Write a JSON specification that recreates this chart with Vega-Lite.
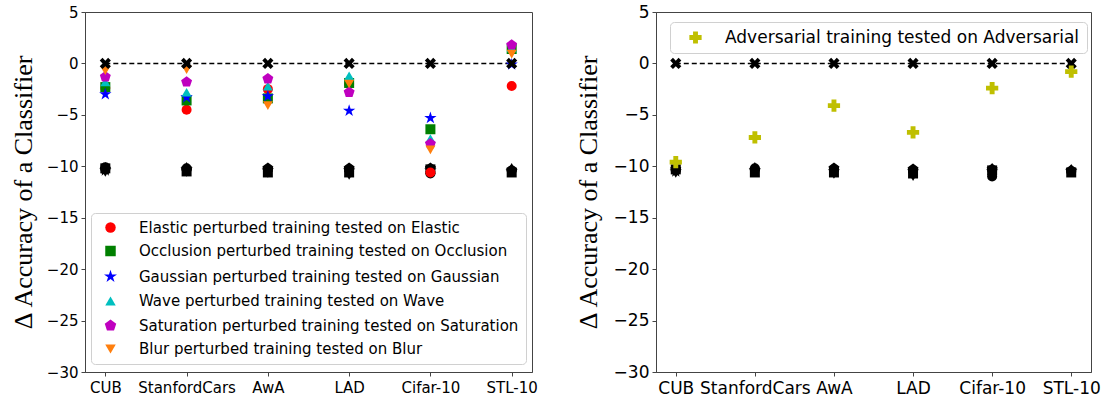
{
  "$schema": "https://vega.github.io/schema/vega-lite/v6.json",
  "background": "white",
  "padding": {"left": 9, "top": 2, "right": 5, "bottom": 5},
  "datasets": {
    "pert": [
      {"dataset": "CUB", "series": "Elastic perturbed training tested on Elastic", "value": -2.4},
      {"dataset": "CUB", "series": "Occlusion perturbed training tested on Occlusion", "value": -2.3},
      {"dataset": "CUB", "series": "Gaussian perturbed training tested on Gaussian", "value": -3.0},
      {"dataset": "CUB", "series": "Wave perturbed training tested on Wave", "value": -1.8},
      {"dataset": "CUB", "series": "Saturation perturbed training tested on Saturation", "value": -1.3},
      {"dataset": "CUB", "series": "Blur perturbed training tested on Blur", "value": -0.7},
      {"dataset": "StanfordCars", "series": "Elastic perturbed training tested on Elastic", "value": -4.5},
      {"dataset": "StanfordCars", "series": "Occlusion perturbed training tested on Occlusion", "value": -3.6},
      {"dataset": "StanfordCars", "series": "Gaussian perturbed training tested on Gaussian", "value": -3.3},
      {"dataset": "StanfordCars", "series": "Wave perturbed training tested on Wave", "value": -2.8},
      {"dataset": "StanfordCars", "series": "Saturation perturbed training tested on Saturation", "value": -1.8},
      {"dataset": "StanfordCars", "series": "Blur perturbed training tested on Blur", "value": -0.6},
      {"dataset": "AwA", "series": "Elastic perturbed training tested on Elastic", "value": -2.5},
      {"dataset": "AwA", "series": "Occlusion perturbed training tested on Occlusion", "value": -3.4},
      {"dataset": "AwA", "series": "Gaussian perturbed training tested on Gaussian", "value": -3.2},
      {"dataset": "AwA", "series": "Wave perturbed training tested on Wave", "value": -2.2},
      {"dataset": "AwA", "series": "Saturation perturbed training tested on Saturation", "value": -1.5},
      {"dataset": "AwA", "series": "Blur perturbed training tested on Blur", "value": -4.1},
      {"dataset": "LAD", "series": "Elastic perturbed training tested on Elastic", "value": -2.0},
      {"dataset": "LAD", "series": "Occlusion perturbed training tested on Occlusion", "value": -1.9},
      {"dataset": "LAD", "series": "Gaussian perturbed training tested on Gaussian", "value": -4.6},
      {"dataset": "LAD", "series": "Wave perturbed training tested on Wave", "value": -1.2},
      {"dataset": "LAD", "series": "Saturation perturbed training tested on Saturation", "value": -2.8},
      {"dataset": "LAD", "series": "Blur perturbed training tested on Blur", "value": -2.0},
      {"dataset": "Cifar-10", "series": "Elastic perturbed training tested on Elastic", "value": -10.6},
      {"dataset": "Cifar-10", "series": "Occlusion perturbed training tested on Occlusion", "value": -6.4},
      {"dataset": "Cifar-10", "series": "Gaussian perturbed training tested on Gaussian", "value": -5.3},
      {"dataset": "Cifar-10", "series": "Wave perturbed training tested on Wave", "value": -7.3},
      {"dataset": "Cifar-10", "series": "Saturation perturbed training tested on Saturation", "value": -7.8},
      {"dataset": "Cifar-10", "series": "Blur perturbed training tested on Blur", "value": -8.4},
      {"dataset": "STL-10", "series": "Elastic perturbed training tested on Elastic", "value": -2.2},
      {"dataset": "STL-10", "series": "Occlusion perturbed training tested on Occlusion", "value": 1.4},
      {"dataset": "STL-10", "series": "Gaussian perturbed training tested on Gaussian", "value": -0.1},
      {"dataset": "STL-10", "series": "Wave perturbed training tested on Wave", "value": 1.5},
      {"dataset": "STL-10", "series": "Saturation perturbed training tested on Saturation", "value": 1.8},
      {"dataset": "STL-10", "series": "Blur perturbed training tested on Blur", "value": 0.9}
    ],
    "cleanL": [
      {"dataset": "CUB", "series": "Elastic perturbed training tested on Elastic", "value": -10.1},
      {"dataset": "CUB", "series": "Occlusion perturbed training tested on Occlusion", "value": -10.2},
      {"dataset": "CUB", "series": "Gaussian perturbed training tested on Gaussian", "value": -10.4},
      {"dataset": "CUB", "series": "Wave perturbed training tested on Wave", "value": -10.0},
      {"dataset": "CUB", "series": "Saturation perturbed training tested on Saturation", "value": -10.3},
      {"dataset": "CUB", "series": "Blur perturbed training tested on Blur", "value": -10.6},
      {"dataset": "StanfordCars", "series": "Elastic perturbed training tested on Elastic", "value": -10.2},
      {"dataset": "StanfordCars", "series": "Occlusion perturbed training tested on Occlusion", "value": -10.5},
      {"dataset": "StanfordCars", "series": "Gaussian perturbed training tested on Gaussian", "value": -10.3},
      {"dataset": "StanfordCars", "series": "Wave perturbed training tested on Wave", "value": -10.0},
      {"dataset": "StanfordCars", "series": "Saturation perturbed training tested on Saturation", "value": -10.4},
      {"dataset": "StanfordCars", "series": "Blur perturbed training tested on Blur", "value": -10.6},
      {"dataset": "AwA", "series": "Elastic perturbed training tested on Elastic", "value": -10.3},
      {"dataset": "AwA", "series": "Occlusion perturbed training tested on Occlusion", "value": -10.6},
      {"dataset": "AwA", "series": "Gaussian perturbed training tested on Gaussian", "value": -10.4},
      {"dataset": "AwA", "series": "Wave perturbed training tested on Wave", "value": -10.1},
      {"dataset": "AwA", "series": "Saturation perturbed training tested on Saturation", "value": -10.2},
      {"dataset": "AwA", "series": "Blur perturbed training tested on Blur", "value": -10.7},
      {"dataset": "LAD", "series": "Elastic perturbed training tested on Elastic", "value": -10.3},
      {"dataset": "LAD", "series": "Occlusion perturbed training tested on Occlusion", "value": -10.6},
      {"dataset": "LAD", "series": "Gaussian perturbed training tested on Gaussian", "value": -10.4},
      {"dataset": "LAD", "series": "Wave perturbed training tested on Wave", "value": -10.1},
      {"dataset": "LAD", "series": "Saturation perturbed training tested on Saturation", "value": -10.2},
      {"dataset": "LAD", "series": "Blur perturbed training tested on Blur", "value": -10.9},
      {"dataset": "Cifar-10", "series": "Elastic perturbed training tested on Elastic", "value": -10.7},
      {"dataset": "Cifar-10", "series": "Occlusion perturbed training tested on Occlusion", "value": -10.3},
      {"dataset": "Cifar-10", "series": "Gaussian perturbed training tested on Gaussian", "value": -10.4},
      {"dataset": "Cifar-10", "series": "Wave perturbed training tested on Wave", "value": -10.1},
      {"dataset": "Cifar-10", "series": "Saturation perturbed training tested on Saturation", "value": -10.2},
      {"dataset": "Cifar-10", "series": "Blur perturbed training tested on Blur", "value": -10.5},
      {"dataset": "STL-10", "series": "Elastic perturbed training tested on Elastic", "value": -10.4},
      {"dataset": "STL-10", "series": "Occlusion perturbed training tested on Occlusion", "value": -10.6},
      {"dataset": "STL-10", "series": "Gaussian perturbed training tested on Gaussian", "value": -10.5},
      {"dataset": "STL-10", "series": "Wave perturbed training tested on Wave", "value": -10.1},
      {"dataset": "STL-10", "series": "Saturation perturbed training tested on Saturation", "value": -10.4},
      {"dataset": "STL-10", "series": "Blur perturbed training tested on Blur", "value": -10.6}
    ],
    "cleanR": [
      {"dataset": "CUB", "series": "Elastic perturbed training tested on Elastic", "value": -10.4},
      {"dataset": "CUB", "series": "Occlusion perturbed training tested on Occlusion", "value": -10.3},
      {"dataset": "CUB", "series": "Gaussian perturbed training tested on Gaussian", "value": -10.5},
      {"dataset": "CUB", "series": "Wave perturbed training tested on Wave", "value": -10.1},
      {"dataset": "CUB", "series": "Saturation perturbed training tested on Saturation", "value": -10.3},
      {"dataset": "CUB", "series": "Blur perturbed training tested on Blur", "value": -10.7},
      {"dataset": "StanfordCars", "series": "Elastic perturbed training tested on Elastic", "value": -10.2},
      {"dataset": "StanfordCars", "series": "Occlusion perturbed training tested on Occlusion", "value": -10.6},
      {"dataset": "StanfordCars", "series": "Gaussian perturbed training tested on Gaussian", "value": -10.4},
      {"dataset": "StanfordCars", "series": "Wave perturbed training tested on Wave", "value": -10.0},
      {"dataset": "StanfordCars", "series": "Saturation perturbed training tested on Saturation", "value": -10.4},
      {"dataset": "StanfordCars", "series": "Blur perturbed training tested on Blur", "value": -10.6},
      {"dataset": "AwA", "series": "Elastic perturbed training tested on Elastic", "value": -10.3},
      {"dataset": "AwA", "series": "Occlusion perturbed training tested on Occlusion", "value": -10.6},
      {"dataset": "AwA", "series": "Gaussian perturbed training tested on Gaussian", "value": -10.5},
      {"dataset": "AwA", "series": "Wave perturbed training tested on Wave", "value": -10.1},
      {"dataset": "AwA", "series": "Saturation perturbed training tested on Saturation", "value": -10.2},
      {"dataset": "AwA", "series": "Blur perturbed training tested on Blur", "value": -10.8},
      {"dataset": "LAD", "series": "Elastic perturbed training tested on Elastic", "value": -10.4},
      {"dataset": "LAD", "series": "Occlusion perturbed training tested on Occlusion", "value": -10.7},
      {"dataset": "LAD", "series": "Gaussian perturbed training tested on Gaussian", "value": -10.5},
      {"dataset": "LAD", "series": "Wave perturbed training tested on Wave", "value": -10.2},
      {"dataset": "LAD", "series": "Saturation perturbed training tested on Saturation", "value": -10.3},
      {"dataset": "LAD", "series": "Blur perturbed training tested on Blur", "value": -11.0},
      {"dataset": "Cifar-10", "series": "Elastic perturbed training tested on Elastic", "value": -11.0},
      {"dataset": "Cifar-10", "series": "Occlusion perturbed training tested on Occlusion", "value": -10.4},
      {"dataset": "Cifar-10", "series": "Gaussian perturbed training tested on Gaussian", "value": -10.5},
      {"dataset": "Cifar-10", "series": "Wave perturbed training tested on Wave", "value": -10.1},
      {"dataset": "Cifar-10", "series": "Saturation perturbed training tested on Saturation", "value": -10.3},
      {"dataset": "Cifar-10", "series": "Blur perturbed training tested on Blur", "value": -10.7},
      {"dataset": "STL-10", "series": "Elastic perturbed training tested on Elastic", "value": -10.5},
      {"dataset": "STL-10", "series": "Occlusion perturbed training tested on Occlusion", "value": -10.6},
      {"dataset": "STL-10", "series": "Gaussian perturbed training tested on Gaussian", "value": -10.5},
      {"dataset": "STL-10", "series": "Wave perturbed training tested on Wave", "value": -10.2},
      {"dataset": "STL-10", "series": "Saturation perturbed training tested on Saturation", "value": -10.4},
      {"dataset": "STL-10", "series": "Blur perturbed training tested on Blur", "value": -10.6}
    ],
    "base": [
      {"dataset": "CUB", "value": 0},
      {"dataset": "StanfordCars", "value": 0},
      {"dataset": "AwA", "value": 0},
      {"dataset": "LAD", "value": 0},
      {"dataset": "Cifar-10", "value": 0},
      {"dataset": "STL-10", "value": 0}
    ],
    "adv": [
      {"dataset": "CUB", "series": "Adversarial training tested on Adversarial", "value": -9.6},
      {"dataset": "StanfordCars", "series": "Adversarial training tested on Adversarial", "value": -7.2},
      {"dataset": "AwA", "series": "Adversarial training tested on Adversarial", "value": -4.1},
      {"dataset": "LAD", "series": "Adversarial training tested on Adversarial", "value": -6.7},
      {"dataset": "Cifar-10", "series": "Adversarial training tested on Adversarial", "value": -2.4},
      {"dataset": "STL-10", "series": "Adversarial training tested on Adversarial", "value": -0.8}
    ]
  },
  "config": {
    "view": {"stroke": "#444", "strokeWidth": 1},
    "axis": {
      "grid": false,
      "domainColor": "#444",
      "tickColor": "#444",
      "tickSize": 4,
      "labelFont": "DejaVu Sans",
      "labelColor": "black",
      "titleFont": "Liberation Serif",
      "titleFontWeight": "normal",
      "titleColor": "black"
    }
  },
  "spacing": 36,
  "resolve": {"scale": {"color": "independent", "shape": "independent", "x": "independent", "y": "independent"}},
  "hconcat": [
    {
      "width": 447,
      "height": 360,
      "layer": [
        {
          "data": {"name": "base"},
          "mark": {"type": "line", "color": "black", "strokeDash": [5, 3], "strokeWidth": 1.5},
          "encoding": {
            "x": {"field": "dataset", "type": "nominal", "sort": null},
            "y": {"field": "value", "type": "quantitative"}
          }
        },
        {
          "data": {"name": "cleanL"},
          "mark": {"type": "point", "filled": true, "opacity": 1, "color": "black", "size": 100},
          "encoding": {
            "x": {"field": "dataset", "type": "nominal", "sort": null},
            "y": {"field": "value", "type": "quantitative"},
            "shape": {"field": "series", "type": "nominal"}
          }
        },
        {
          "data": {"name": "pert"},
          "mark": {"type": "point", "filled": true, "opacity": 1, "size": 100},
          "encoding": {
            "x": {
              "field": "dataset", "type": "nominal", "sort": null,
              "scale": {"domain": ["CUB", "StanfordCars", "AwA", "LAD", "Cifar-10", "STL-10"], "padding": 0.25},
              "axis": {"title": null, "labelAngle": 0, "labelAlign": "center", "labelBaseline": "top", "labelFontSize": 15, "labelPadding": 4}
            },
            "y": {
              "field": "value", "type": "quantitative",
              "scale": {"domain": [-30, 5], "nice": false, "zero": false},
              "axis": {"values": [-30, -25, -20, -15, -10, -5, 0, 5], "title": "Δ Accuracy of a Classifier", "titleFontSize": 26, "labelFontSize": 15, "titlePadding": 10, "labelPadding": 3}
            },
            "color": {
              "field": "series", "type": "nominal",
              "scale": {
                "domain": ["Elastic perturbed training tested on Elastic", "Occlusion perturbed training tested on Occlusion", "Gaussian perturbed training tested on Gaussian", "Wave perturbed training tested on Wave", "Saturation perturbed training tested on Saturation", "Blur perturbed training tested on Blur"],
                "range": ["#ff0000", "#008000", "#0000ff", "#00bfbf", "#bf00bf", "#ff7f0e"]
              },
              "legend": {
                "orient": "none", "legendX": 6, "legendY": 201, "title": null,
                "labelFont": "DejaVu Sans", "labelFontSize": 15, "labelColor": "black", "labelLimit": 0,
                "symbolSize": 110, "fillColor": "white", "strokeColor": "#d0d0d0", "cornerRadius": 4,
                "padding": 7, "rowPadding": 6.5, "labelOffset": 21, "symbolOffset": 5
              }
            },
            "shape": {
              "field": "series", "type": "nominal",
              "scale": {
                "domain": ["Elastic perturbed training tested on Elastic", "Occlusion perturbed training tested on Occlusion", "Gaussian perturbed training tested on Gaussian", "Wave perturbed training tested on Wave", "Saturation perturbed training tested on Saturation", "Blur perturbed training tested on Blur"],
                "range": ["circle", "square", "M0,-1.3L0.29,-0.4L1.236,-0.402L0.469,0.152L0.764,1.052L0,0.494L-0.764,1.052L-0.469,0.152L-1.236,-0.402L-0.29,-0.4Z", "triangle-up", "M0,-1.15L1.094,-0.355L0.676,0.93L-0.676,0.93L-1.094,-0.355Z", "triangle-down"]
              },
              "legend": {
                "orient": "none", "legendX": 6, "legendY": 201, "title": null,
                "labelFont": "DejaVu Sans", "labelFontSize": 15, "labelColor": "black", "labelLimit": 0,
                "symbolSize": 110, "fillColor": "white", "strokeColor": "#d0d0d0", "cornerRadius": 4,
                "padding": 7, "rowPadding": 6.5, "labelOffset": 21, "symbolOffset": 5
              }
            }
          }
        },
        {
          "data": {"name": "base"},
          "mark": {"type": "point", "filled": true, "opacity": 1, "color": "black", "size": 140, "shape": "M0.474,-0.941L0.941,-0.474L0.467,0L0.941,0.474L0.474,0.941L0,0.467L-0.474,0.941L-0.941,0.474L-0.467,0L-0.941,-0.474L-0.474,-0.941L0,-0.467Z"},
          "encoding": {
            "x": {"field": "dataset", "type": "nominal", "sort": null},
            "y": {"field": "value", "type": "quantitative"}
          }
        }
      ]
    },
    {
      "width": 435,
      "height": 360,
      "layer": [
        {
          "data": {"name": "base"},
          "mark": {"type": "line", "color": "black", "strokeDash": [5, 3], "strokeWidth": 1.5},
          "encoding": {
            "x": {"field": "dataset", "type": "nominal", "sort": null},
            "y": {"field": "value", "type": "quantitative"}
          }
        },
        {
          "data": {"name": "cleanR"},
          "mark": {"type": "point", "filled": true, "opacity": 1, "color": "black", "size": 100},
          "encoding": {
            "x": {"field": "dataset", "type": "nominal", "sort": null},
            "y": {"field": "value", "type": "quantitative"},
            "shape": {
              "field": "series", "type": "nominal", "legend": null,
              "scale": {
                "domain": ["Elastic perturbed training tested on Elastic", "Occlusion perturbed training tested on Occlusion", "Gaussian perturbed training tested on Gaussian", "Wave perturbed training tested on Wave", "Saturation perturbed training tested on Saturation", "Blur perturbed training tested on Blur"],
                "range": ["circle", "square", "M0,-1.3L0.29,-0.4L1.236,-0.402L0.469,0.152L0.764,1.052L0,0.494L-0.764,1.052L-0.469,0.152L-1.236,-0.402L-0.29,-0.4Z", "triangle-up", "M0,-1.15L1.094,-0.355L0.676,0.93L-0.676,0.93L-1.094,-0.355Z", "triangle-down"]
              }
            }
          }
        },
        {
          "data": {"name": "base"},
          "mark": {"type": "point", "filled": true, "opacity": 1, "color": "black", "size": 140, "shape": "M0.474,-0.941L0.941,-0.474L0.467,0L0.941,0.474L0.474,0.941L0,0.467L-0.474,0.941L-0.941,0.474L-0.467,0L-0.941,-0.474L-0.474,-0.941L0,-0.467Z"},
          "encoding": {
            "x": {"field": "dataset", "type": "nominal", "sort": null},
            "y": {"field": "value", "type": "quantitative"}
          }
        },
        {
          "data": {"name": "adv"},
          "mark": {"type": "point", "filled": true, "opacity": 1, "size": 150, "shape": "cross"},
          "encoding": {
            "x": {
              "field": "dataset", "type": "nominal", "sort": null,
              "scale": {"domain": ["CUB", "StanfordCars", "AwA", "LAD", "Cifar-10", "STL-10"], "padding": 0.25},
              "axis": {"title": null, "labelAngle": 0, "labelAlign": "center", "labelBaseline": "top", "labelFontSize": 17, "labelPadding": 4}
            },
            "y": {
              "field": "value", "type": "quantitative",
              "scale": {"domain": [-30, 5], "nice": false, "zero": false},
              "axis": {"values": [-30, -25, -20, -15, -10, -5, 0, 5], "title": "Δ Accuracy of a Classifier", "titleFontSize": 26, "labelFontSize": 17, "titlePadding": 12, "labelPadding": 3}
            },
            "color": {
              "field": "series", "type": "nominal",
              "scale": {"domain": ["Adversarial training tested on Adversarial"], "range": ["#bfbf00"]},
              "legend": {
                "orient": "none", "legendX": 14, "legendY": 10, "title": null,
                "labelFont": "DejaVu Sans", "labelFontSize": 17, "labelColor": "black", "labelLimit": 0,
                "symbolType": "cross", "symbolSize": 150, "fillColor": "white", "strokeColor": "#d0d0d0", "cornerRadius": 4,
                "padding": 7, "labelOffset": 21, "symbolOffset": 10
              }
            }
          }
        }
      ]
    }
  ]
}
